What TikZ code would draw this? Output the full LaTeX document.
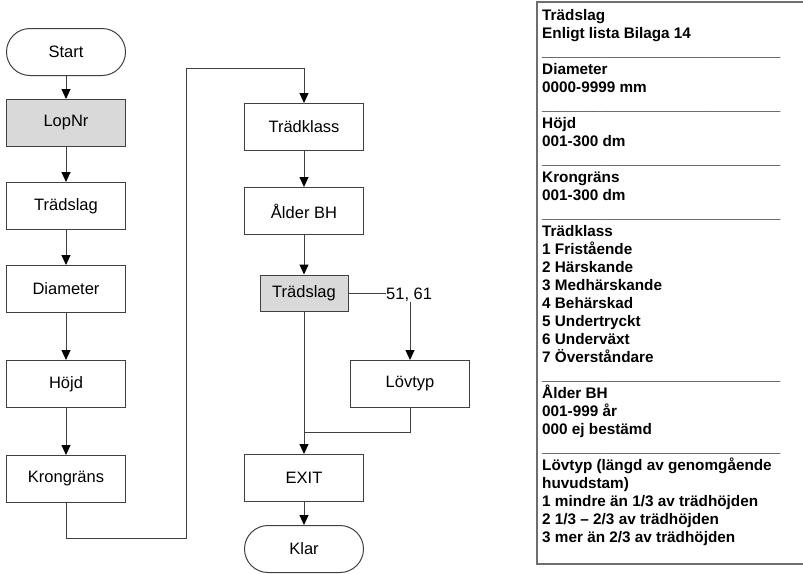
\documentclass[tikz,border=0pt]{standalone}
\usepackage{fontspec}
\setmainfont{Liberation Sans}
\usetikzlibrary{arrows.meta}
\definecolor{linegray}{RGB}{64,64,64}
\definecolor{boxfill}{RGB}{217,217,217}
\definecolor{panelgray}{RGB}{110,110,110}
\newcommand{\avdelare}{\_\_\_\_\_\_\_\_\_\_\_\_\_\_\_\_\_\_\_\_\_\_\_\_\_\_\_\_}

\begin{document}
\begin{tikzpicture}[
  x=1pt, y=-1pt,
  every node/.style={font=\fontsize{16.5}{19}\selectfont},
  box/.style={draw=linegray, line width=1pt, minimum width=119pt, minimum height=47pt, inner sep=0pt},
  greybox/.style={box, fill=boxfill},
  terminal/.style={box, rounded corners=23.5pt},
  flow/.style={draw=linegray, line width=1pt, -{Triangle[width=9pt,length=10pt,color=black]}},
  link/.style={draw=linegray, line width=1pt}
]
  \useasboundingbox (0,0) rectangle (803,573);

  \node[terminal] (start) at (66,52) {Start};
  \node[greybox] (lopnr) at (66,123) {LopNr};
  \node[box] (tradslag) at (66,206) {Trädslag};
  \node[box] (diameter) at (66,289) {Diameter};
  \node[box] (hojd) at (66,384) {Höjd};
  \node[box] (krongrans) at (66,479) {Krongräns};

  \node[box] (tradklass) at (304,127) {Trädklass};
  \node[box] (alder) at (304,211) {Ålder BH};
  \node[greybox, minimum width=88pt, minimum height=36pt] (tradslagtva) at (304,293) {Trädslag};
  \node[anchor=west, inner sep=0pt] (lovkod) at (386,295) {51, 61};
  \node[box] (lovtyp) at (410,384) {Lövtyp};
  \node[box] (exit) at (304,478) {EXIT};
  \node[terminal] (klar) at (304,549) {Klar};

  \coordinate (loopbot) at (186,538);
  \coordinate (looptop) at (186,68);
  \coordinate (join) at (304,432);

  \draw[flow] (start) -- (lopnr);
  \draw[flow] (lopnr) -- (tradslag);
  \draw[flow] (tradslag) -- (diameter);
  \draw[flow] (diameter) -- (hojd);
  \draw[flow] (hojd) -- (krongrans);
  \draw[flow] (krongrans.south) |- (loopbot) -- (looptop) -| (tradklass.north);
  \draw[flow] (tradklass) -- (alder);
  \draw[flow] (alder) -- (tradslagtva);
  \draw[link] (tradslagtva.east) -- (tradslagtva.east -| lovkod.west);
  \draw[flow] (lovkod.south -| lovtyp.north) -- (lovtyp.north);
  \draw[link] (lovtyp.south) |- (join);
  \draw[flow] (tradslagtva) -- (exit);
  \draw[flow] (exit) -- (klar);

  \draw[draw=panelgray, line width=1.2pt] (803,2) -- (537,2) -- (537,564) -- (803,564);
  \node[anchor=north west, align=left, inner sep=0pt, font=\fontsize{15.3}{18}\selectfont\bfseries] (legend) at (542,9.5) {%
    Trädslag\\
    Enligt lista Bilaga 14\\
    \avdelare\\
    Diameter\\
    0000-9999 mm\\
    \avdelare\\
    Höjd\\
    001-300 dm\\
    \avdelare\\
    Krongräns\\
    001-300 dm\\
    \avdelare\\
    Trädklass\\
    1 Fristående\\
    2 Härskande\\
    3 Medhärskande\\
    4 Behärskad\\
    5 Undertryckt\\
    6 Underväxt\\
    7 Överståndare\\
    \avdelare\\
    Ålder BH\\
    001-999 år\\
    000 ej bestämd\\
    \avdelare\\
    Lövtyp (längd av genomgående\\
    huvudstam)\\
    1 mindre än 1/3 av trädhöjden\\
    2 1/3 -- 2/3 av trädhöjden\\
    3 mer än 2/3 av trädhöjden};
\end{tikzpicture}
\end{document}
